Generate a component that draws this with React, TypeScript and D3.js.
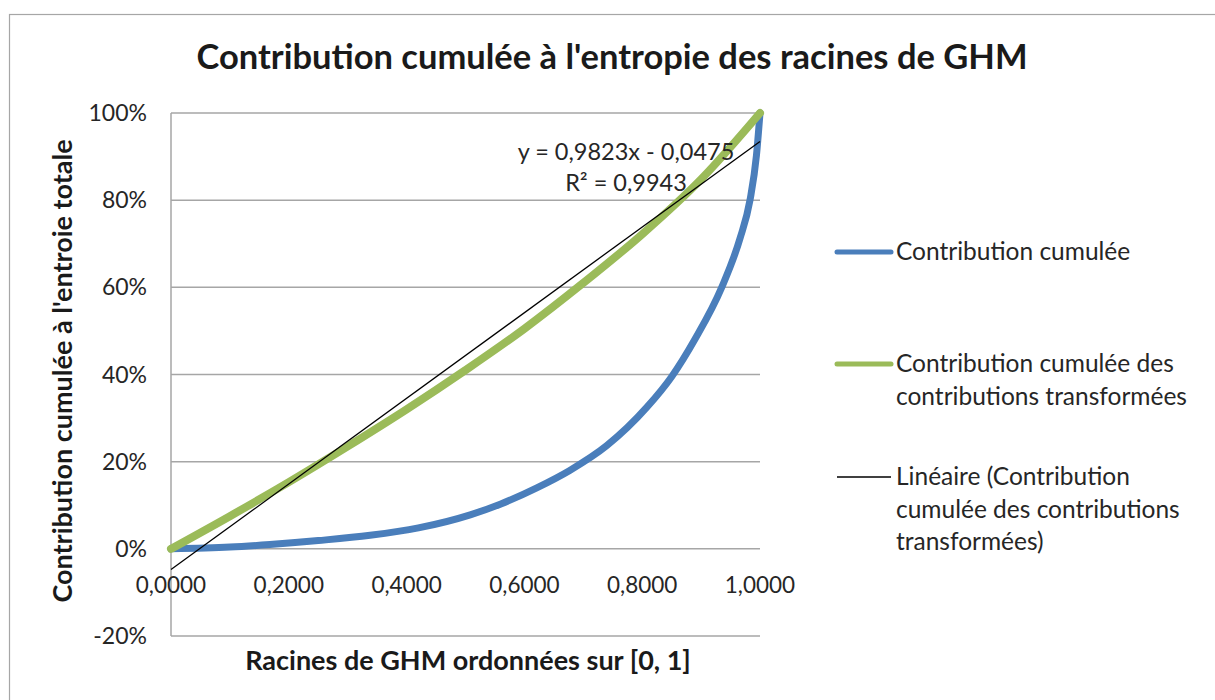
import React from "react";
import * as d3 from "d3";

// ---- Data ----
const blueX = [0, 0.1, 0.168, 0.25, 0.338, 0.42, 0.508, 0.56, 0.621, 0.677, 0.74, 0.808, 0.85, 0.89, 0.935, 0.966, 0.983, 0.994, 1.0];
const blueY = [0, 0.004, 0.0099, 0.019, 0.031, 0.048, 0.078, 0.103, 0.14, 0.18, 0.237, 0.325, 0.395, 0.482, 0.6, 0.712, 0.8, 0.903, 1.0];

const greenX = [0, 0.1, 0.2, 0.3, 0.4, 0.5, 0.6, 0.7, 0.8, 0.9, 1.0];
const greenY = [0, 0.075, 0.153, 0.235, 0.32, 0.41, 0.505, 0.61, 0.722, 0.848, 1.0];

const trendSlope = 0.9823;
const trendIntercept = -0.0475;
const trendLabel = "y = 0,9823x - 0,0475";
const r2Label = "R² = 0,9943";

const yTicks = [-0.2, 0, 0.2, 0.4, 0.6, 0.8, 1.0];
const xTicks = [0, 0.2, 0.4, 0.6, 0.8, 1.0];

const title = "Contribution cumulée à l'entropie des racines de GHM";
const yTitle = "Contribution cumulée à l'entroie totale";
const xTitle = "Racines de GHM ordonnées sur [0, 1]";

const legendItems = [
  { lines: ["Contribution cumulée"], color: "#4a7ebb", width: 5 },
  { lines: ["Contribution cumulée des", "contributions transformées"], color: "#9bbb59", width: 5 },
  { lines: ["Linéaire (Contribution", "cumulée des contributions", "transformées)"], color: "#000000", width: 1.3 },
];

const FONT = "Lato, 'Open Sans', sans-serif";

export default function App() {
  const left = 171, right = 760, top = 113, bottom = 636;
  const x = d3.scaleLinear().domain([0, 1]).range([left, right]);
  const y = d3.scaleLinear().domain([-0.2, 1]).range([bottom, top]);

  const line = d3.line<[number, number]>().x(d => x(d[0])).y(d => y(d[1])).curve(d3.curveMonotoneX);
  const bluePts = blueX.map((v, i) => [v, blueY[i]] as [number, number]);
  const greenPts = greenX.map((v, i) => [v, greenY[i]] as [number, number]);
  const trendPts: [number, number][] = [0, 1].map(v => [v, trendSlope * v + trendIntercept]);

  const fmtPct = (v: number) => `${Math.round(v * 100)}%`;
  const fmtX = (v: number) => v.toFixed(4).replace(".", ",");

  const legendYs = [252, 364, 477];

  return (
    <svg width={1215} height={700} style={{ position: "absolute", left: 0, top: 0, background: "#fff" }} fontFamily={FONT}>
      <rect x={9.5} y={14.5} width={1215} height={700} fill="#fff" stroke="#a6a6a6" strokeWidth={1.2} />
      <text x={612} y={69} textAnchor="middle" fontSize={34.5} fontWeight={700} fill="#1a1a1a">{title}</text>

      {/* gridlines */}
      {yTicks.map(t => (
        <line key={t} x1={left} x2={right} y1={y(t)} y2={y(t)} stroke="#a6a6a6" strokeWidth={1.5} />
      ))}
      <line x1={left} x2={left} y1={top} y2={bottom} stroke="#a6a6a6" strokeWidth={1.5} />

      {/* y tick labels */}
      {yTicks.map(t => (
        <text key={t} x={147} y={y(t) + 8} textAnchor="end" fontSize={23} fill="#262626">{fmtPct(t)}</text>
      ))}
      {/* x tick labels */}
      {xTicks.map(t => (
        <text key={t} x={x(t)} y={593} textAnchor="middle" fontSize={22.5} fill="#262626">{fmtX(t)}</text>
      ))}

      {/* series */}
      <path d={line(bluePts) || ""} fill="none" stroke="#4a7ebb" strokeWidth={7} strokeLinejoin="round" strokeLinecap="round" />
      <path d={line(greenPts) || ""} fill="none" stroke="#9bbb59" strokeWidth={8} strokeLinejoin="round" strokeLinecap="round" />
      <path d={d3.line<[number, number]>().x(d => x(d[0])).y(d => y(d[1]))(trendPts) || ""} fill="none" stroke="#000" strokeWidth={1.3} />

      {/* trend label */}
      <text x={626} y={160} textAnchor="middle" fontSize={23.5} fill="#262626">{trendLabel}</text>
      <text x={626} y={191} textAnchor="middle" fontSize={23.5} fill="#262626">{r2Label}</text>

      {/* axis titles */}
      <text transform={`translate(72,371) rotate(-90)`} textAnchor="middle" fontSize={27} fontWeight={700} fill="#1a1a1a">{yTitle}</text>
      <text x={468} y={670} textAnchor="middle" fontSize={27} fontWeight={700} fill="#1a1a1a">{xTitle}</text>

      {/* legend */}
      {legendItems.map((it, i) => (
        <g key={i}>
          <line x1={837} x2={891} y1={legendYs[i]} y2={legendYs[i]} stroke={it.color} strokeWidth={it.width} strokeLinecap={it.width > 2 ? "round" : "butt"} />
          {it.lines.map((l, j) => (
            <text key={j} x={896} y={legendYs[i] + 8 + j * 32.5} fontSize={24.5} fill="#262626">{l}</text>
          ))}
        </g>
      ))}
    </svg>
  );
}
